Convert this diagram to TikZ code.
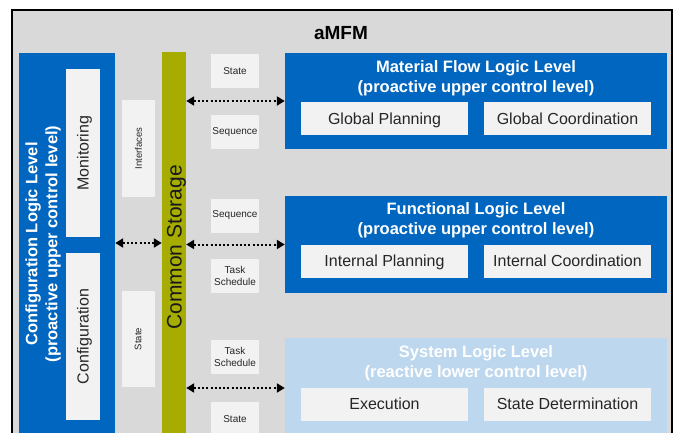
\documentclass[tikz,border=0pt]{standalone}
\usepackage{fontspec}
\setmainfont{Liberation Sans}
\usetikzlibrary{arrows.meta}
\definecolor{framegray}{RGB}{217,217,217}
\definecolor{lvlblue}{RGB}{0,102,191}
\definecolor{lvllight}{RGB}{189,215,238}
\definecolor{boxwhite}{RGB}{242,242,242}
\definecolor{storegreen}{RGB}{166,173,0}
\tikzstyle{level} = [rectangle, inner sep=0pt, minimum width=382pt, fill=lvlblue]
\tikzstyle{title} = [text=white, align=center, font=\bfseries\fontsize{16.5}{20}\selectfont]
\tikzstyle{task} = [rectangle, inner sep=0pt, minimum width=167pt, minimum height=33pt, text height=14.5pt, text depth=3.4pt, fill=boxwhite, text=black!85, font=\fontsize{16}{19}\selectfont]
\tikzstyle{vtask} = [task, rotate=90, minimum height=34pt]
\tikzstyle{tag} = [rectangle, inner sep=0pt, minimum width=48pt, minimum height=34pt, align=center, fill=boxwhite, text=black!85, font=\fontsize{10}{12}\selectfont]
\tikzstyle{vtag} = [tag, rotate=90, minimum width=97pt, minimum height=33pt, font=\fontsize{9.5}{11}\selectfont]
\tikzstyle{arrow} = [line width=2pt, dash pattern=on 2pt off 2.2pt, {Triangle[length=8pt,width=9pt]}-{Triangle[length=8pt,width=9pt]}]
\begin{document}
\begin{tikzpicture}[x=1pt, y=-1pt]
\useasboundingbox (0,0) rectangle (675,433);
\clip (0,0) rectangle (675,433);

% frame
\node (amfm) [rectangle, draw=black, line width=1.5pt, fill=framegray, minimum width=660pt, minimum height=440pt] at (342,230) {};
\node (amfmtitle) [font=\bfseries\fontsize{19}{22}\selectfont] at (341,33) {aMFM};

% configuration logic level
\node (cfg) [rectangle, inner sep=0pt, minimum width=96pt, minimum height=392pt, fill=lvlblue] at (67,249) {};
\node (cfgtitle) [title, rotate=90] at (43,244) {Configuration Logic Level\\(proactive upper control level)};
\node (mon) [vtask, minimum width=168pt] at (83,153) {Monitoring};
\node (conf) [vtask, minimum width=167pt] at (83,336.5) {Configuration};

\node (intf) [vtag] at (138.5,148.5) {Interfaces};
\node (statel) [vtag, minimum width=96pt] at (138,339) {State};

% common storage
\node (storage) [rectangle, inner sep=0pt, minimum width=24pt, minimum height=393pt, fill=storegreen] at (174,248.5) {};
\node (storagetxt) [rotate=90, text=black!90, font=\fontsize{21}{25}\selectfont] at (176.5,247.5) {Common Storage};

% levels
\node (mfl) [level, minimum height=96pt] at (476,101) {};
\node (mfltitle) [title] at (476,78) {Material Flow Logic Level\\(proactive upper control level)};
\node (gplan) [task] at (384.5,118.5) {Global Planning};
\node (gcoord) [task] at (567.5,118.5) {Global Coordination};

\node (fun) [level, minimum height=97pt] at (476,244.5) {};
\node (funtitle) [title] at (476,220.5) {Functional Logic Level\\(proactive upper control level)};
\node (iplan) [task] at (384.5,261) {Internal Planning};
\node (icoord) [task] at (567.5,261) {Internal Coordination};

\node (sys) [level, minimum height=100pt, fill=lvllight] at (476,388) {};
\node (systitle) [title] at (476,363) {System Logic Level\\(reactive lower control level)};
\node (exec) [task] at (384.5,404) {Execution};
\node (sdet) [task] at (567.5,404) {State Determination};

% exchanged data
\node (state1) [tag] at (235,71) {State};
\node (seq1) [tag] at (235,132.5) {Sequence};
\node (seq2) [tag] at (235,215.5) {Sequence};
\node (task1) [tag] at (235,276) {Task\\Schedule};
\node (task2) [tag] at (235,357) {Task\\Schedule};
\node (state2) [tag] at (235,419) {State};

\draw [arrow] (cfg.east |- 0,243) -- (storage.west |- 0,243);
\draw [arrow] (storage.east |- mfl.west) -- (mfl.west);
\draw [arrow] (storage.east |- fun.west) -- (fun.west);
\draw [arrow] (storage.east |- sys.west) -- (sys.west);

\end{tikzpicture}
\end{document}
